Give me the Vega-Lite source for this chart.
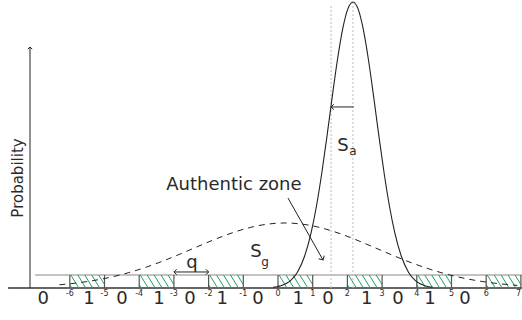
{
  "$schema": "https://vega.github.io/schema/vega-lite/v6.json",
  "width": 522,
  "height": 320,
  "padding": 0,
  "autosize": "none",
  "view": {"stroke": null},
  "config": {"text": {"font": "DejaVu Sans", "fontWeight": "normal", "color": "#2a2a2a"}},
  "datasets": {
    "solid": [
      {"x": -0.14, "y": 0.0025}, {"x": 0.06, "y": 0.0068}, {"x": 0.36, "y": 0.0257}, {"x": 0.56, "y": 0.0554},
      {"x": 0.76, "y": 0.1091}, {"x": 0.96, "y": 0.1963}, {"x": 1.11, "y": 0.2875}, {"x": 1.26, "y": 0.4002},
      {"x": 1.41, "y": 0.5294}, {"x": 1.56, "y": 0.6656}, {"x": 1.71, "y": 0.7954}, {"x": 1.86, "y": 0.9033},
      {"x": 2.01, "y": 0.9749}, {"x": 2.16, "y": 1.0}, {"x": 2.31, "y": 0.9749}, {"x": 2.46, "y": 0.9033},
      {"x": 2.61, "y": 0.7954}, {"x": 2.76, "y": 0.6656}, {"x": 2.91, "y": 0.5294}, {"x": 3.06, "y": 0.4002},
      {"x": 3.21, "y": 0.2875}, {"x": 3.36, "y": 0.1963}, {"x": 3.56, "y": 0.1091}, {"x": 3.76, "y": 0.0554},
      {"x": 3.96, "y": 0.0257}, {"x": 4.26, "y": 0.0068}, {"x": 4.46, "y": 0.0025}
    ],
    "dashed": [
      {"x": -6.3, "y": 0.0112}, {"x": -5.8, "y": 0.0175}, {"x": -5.3, "y": 0.0264}, {"x": -4.8, "y": 0.0383},
      {"x": -4.3, "y": 0.0538}, {"x": -3.8, "y": 0.0728}, {"x": -3.3, "y": 0.095}, {"x": -2.8, "y": 0.1198},
      {"x": -2.3, "y": 0.1457}, {"x": -1.8, "y": 0.171}, {"x": -1.3, "y": 0.1937}, {"x": -0.8, "y": 0.2117},
      {"x": -0.3, "y": 0.2233}, {"x": 0.2, "y": 0.2273}, {"x": 0.7, "y": 0.2233}, {"x": 1.2, "y": 0.2117},
      {"x": 1.7, "y": 0.1937}, {"x": 2.2, "y": 0.171}, {"x": 2.7, "y": 0.1457}, {"x": 3.2, "y": 0.1198},
      {"x": 3.7, "y": 0.095}, {"x": 4.2, "y": 0.0728}, {"x": 4.7, "y": 0.0538}, {"x": 5.2, "y": 0.0383},
      {"x": 5.7, "y": 0.0264}, {"x": 6.2, "y": 0.0175}, {"x": 6.7, "y": 0.0112}, {"x": 6.9, "y": 0.0093}
    ],
    "hatch": [
      {"x": -6, "y": 0.0119, "x2": -5.94, "y2": 0}, {"x": -5.97, "y": 0.04545, "x2": -5.74, "y2": 0}, {"x": -5.77, "y": 0.04545, "x2": -5.54, "y2": 0}, {"x": -5.57, "y": 0.04545, "x2": -5.34, "y2": 0}, {"x": -5.37, "y": 0.04545, "x2": -5.14, "y2": 0}, {"x": -5.17, "y": 0.04545, "x2": -5, "y2": 0.0119},
      {"x": -4, "y": 0.0119, "x2": -3.94, "y2": 0}, {"x": -3.97, "y": 0.04545, "x2": -3.74, "y2": 0}, {"x": -3.77, "y": 0.04545, "x2": -3.54, "y2": 0}, {"x": -3.57, "y": 0.04545, "x2": -3.34, "y2": 0}, {"x": -3.37, "y": 0.04545, "x2": -3.14, "y2": 0}, {"x": -3.17, "y": 0.04545, "x2": -3, "y2": 0.0119},
      {"x": -2, "y": 0.0119, "x2": -1.94, "y2": 0}, {"x": -1.97, "y": 0.04545, "x2": -1.74, "y2": 0}, {"x": -1.77, "y": 0.04545, "x2": -1.54, "y2": 0}, {"x": -1.57, "y": 0.04545, "x2": -1.34, "y2": 0}, {"x": -1.37, "y": 0.04545, "x2": -1.14, "y2": 0}, {"x": -1.17, "y": 0.04545, "x2": -1, "y2": 0.0119},
      {"x": 0, "y": 0.0119, "x2": 0.06, "y2": 0}, {"x": 0.03, "y": 0.04545, "x2": 0.26, "y2": 0}, {"x": 0.23, "y": 0.04545, "x2": 0.46, "y2": 0}, {"x": 0.43, "y": 0.04545, "x2": 0.66, "y2": 0}, {"x": 0.63, "y": 0.04545, "x2": 0.86, "y2": 0}, {"x": 0.83, "y": 0.04545, "x2": 1, "y2": 0.0119},
      {"x": 2, "y": 0.0119, "x2": 2.06, "y2": 0}, {"x": 2.03, "y": 0.04545, "x2": 2.26, "y2": 0}, {"x": 2.23, "y": 0.04545, "x2": 2.46, "y2": 0}, {"x": 2.43, "y": 0.04545, "x2": 2.66, "y2": 0}, {"x": 2.63, "y": 0.04545, "x2": 2.86, "y2": 0}, {"x": 2.83, "y": 0.04545, "x2": 3, "y2": 0.0119},
      {"x": 4, "y": 0.0119, "x2": 4.06, "y2": 0}, {"x": 4.03, "y": 0.04545, "x2": 4.26, "y2": 0}, {"x": 4.23, "y": 0.04545, "x2": 4.46, "y2": 0}, {"x": 4.43, "y": 0.04545, "x2": 4.66, "y2": 0}, {"x": 4.63, "y": 0.04545, "x2": 4.86, "y2": 0}, {"x": 4.83, "y": 0.04545, "x2": 5, "y2": 0.0119},
      {"x": 6, "y": 0.0119, "x2": 6.06, "y2": 0}, {"x": 6.03, "y": 0.04545, "x2": 6.26, "y2": 0}, {"x": 6.23, "y": 0.04545, "x2": 6.46, "y2": 0}, {"x": 6.43, "y": 0.04545, "x2": 6.66, "y2": 0}, {"x": 6.63, "y": 0.04545, "x2": 6.86, "y2": 0}, {"x": 6.83, "y": 0.04545, "x2": 7, "y2": 0.0119}
    ],
    "edges": [
      {"x": -6}, {"x": -5}, {"x": -4}, {"x": -3}, {"x": -2}, {"x": -1}, {"x": 0},
      {"x": 1}, {"x": 2}, {"x": 3}, {"x": 4}, {"x": 5}, {"x": 6}, {"x": 7}
    ],
    "bits": [
      {"t": "0", "x": -6.77}, {"t": "1", "x": -5.45}, {"t": "0", "x": -4.5}, {"t": "1", "x": -3.43},
      {"t": "0", "x": -2.54}, {"t": "1", "x": -1.61}, {"t": "0", "x": -0.58}, {"t": "1", "x": 0.58},
      {"t": "0", "x": 1.44}, {"t": "1", "x": 2.56}, {"t": "0", "x": 3.46}, {"t": "1", "x": 4.38},
      {"t": "0", "x": 5.39}
    ],
    "ticks": [
      {"t": "-6", "x": -6}, {"t": "-5", "x": -5}, {"t": "-4", "x": -4}, {"t": "-3", "x": -3},
      {"t": "-2", "x": -2}, {"t": "-1", "x": -1}, {"t": "0", "x": 0}, {"t": "1", "x": 1},
      {"t": "2", "x": 2}, {"t": "3", "x": 3}, {"t": "4", "x": 4}, {"t": "5", "x": 5},
      {"t": "6", "x": 6}, {"t": "7", "x": 6.93}
    ]
  },
  "layer": [
    {
      "data": {"values": [{"x": -7.78, "x2": 7.05, "y": 0}]},
      "mark": {"type": "rule", "color": "#333", "strokeWidth": 1.5},
      "encoding": {
        "x": {"field": "x", "type": "quantitative", "scale": {"domain": [-8.012, 7.032], "nice": false, "zero": false}, "axis": null},
        "x2": {"field": "x2"},
        "y": {"field": "y", "type": "quantitative", "scale": {"domain": [-0.1119, 1.007], "nice": false, "zero": false}, "axis": null}
      }
    },
    {
      "data": {"values": [{"x": -7.0, "x2": 7.05, "y": 0.04545}]},
      "mark": {"type": "rule", "color": "#888", "strokeWidth": 1.2},
      "encoding": {
        "x": {"field": "x", "type": "quantitative"},
        "x2": {"field": "x2"},
        "y": {"field": "y", "type": "quantitative"}
      }
    },
    {
      "data": {"name": "hatch"},
      "mark": {"type": "rule", "color": "#1fa35c", "strokeWidth": 1},
      "encoding": {
        "x": {"field": "x", "type": "quantitative"},
        "x2": {"field": "x2"},
        "y": {"field": "y", "type": "quantitative"},
        "y2": {"field": "y2"}
      }
    },
    {
      "data": {"name": "edges"},
      "mark": {"type": "rule", "color": "#555", "strokeWidth": 1.2},
      "encoding": {
        "x": {"field": "x", "type": "quantitative"},
        "y": {"datum": 0, "type": "quantitative"},
        "y2": {"datum": 0.04545}
      }
    },
    {
      "data": {"values": [{"x": 1.53, "y": 0, "y2": 0.99}, {"x": 2.16, "y": 0, "y2": 1.0}]},
      "mark": {"type": "rule", "color": "#bbb", "strokeWidth": 1, "strokeDash": [2, 2]},
      "encoding": {
        "x": {"field": "x", "type": "quantitative"},
        "y": {"field": "y", "type": "quantitative"},
        "y2": {"field": "y2"}
      }
    },
    {
      "data": {"name": "dashed"},
      "mark": {"type": "line", "color": "#222", "strokeWidth": 1, "strokeDash": [6, 5], "interpolate": "monotone"},
      "encoding": {
        "x": {"field": "x", "type": "quantitative"},
        "y": {"field": "y", "type": "quantitative"}
      }
    },
    {
      "data": {"name": "solid"},
      "mark": {"type": "line", "color": "#222", "strokeWidth": 1.1, "interpolate": "monotone"},
      "encoding": {
        "x": {"field": "x", "type": "quantitative"},
        "y": {"field": "y", "type": "quantitative"}
      }
    },
    {
      "data": {"values": [
        {"x": 2.18, "y": 0.633, "x2": 1.53, "y2": 0.633},
        {"x": 0.288, "y": 0.3147, "x2": 1.297, "y2": 0.0979},
        {"x": -3.0, "y": 0.056, "x2": -2.0, "y2": 0.056},
        {"x": -7.147, "y": 0, "x2": -7.147, "y2": 0.8427}
      ]},
      "mark": {"type": "rule", "color": "#222", "strokeWidth": 1},
      "encoding": {
        "x": {"field": "x", "type": "quantitative"},
        "x2": {"field": "x2"},
        "y": {"field": "y", "type": "quantitative"},
        "y2": {"field": "y2"}
      }
    },
    {
      "data": {"values": [{"x": 1.53, "y": 0.633}, {"x": -3.0, "y": 0.056}]},
      "mark": {"type": "point", "shape": "M-1,-1L0,0L-1,1", "filled": false, "stroke": "#222", "strokeWidth": 1, "size": 30, "angle": 180, "opacity": 1},
      "encoding": {
        "x": {"field": "x", "type": "quantitative"},
        "y": {"field": "y", "type": "quantitative"}
      }
    },
    {
      "data": {"values": [{"x": -2.0, "y": 0.056}]},
      "mark": {"type": "point", "shape": "M-1,-1L0,0L-1,1", "filled": false, "stroke": "#222", "strokeWidth": 1, "size": 30, "angle": 0, "opacity": 1},
      "encoding": {
        "x": {"field": "x", "type": "quantitative"},
        "y": {"field": "y", "type": "quantitative"}
      }
    },
    {
      "data": {"values": [{"x": 1.297, "y": 0.0979}]},
      "mark": {"type": "point", "shape": "M-1,-1L0,0L-1,1", "filled": false, "stroke": "#222", "strokeWidth": 1, "size": 40, "angle": 60.6, "opacity": 1},
      "encoding": {
        "x": {"field": "x", "type": "quantitative"},
        "y": {"field": "y", "type": "quantitative"}
      }
    },
    {
      "data": {"values": [{"x": -7.147, "y": 0.8427}]},
      "mark": {"type": "point", "shape": "M-1,-1L0,0L-1,1", "filled": false, "stroke": "#222", "strokeWidth": 1, "size": 20, "angle": 270, "opacity": 1},
      "encoding": {
        "x": {"field": "x", "type": "quantitative"},
        "y": {"field": "y", "type": "quantitative"}
      }
    },
    {
      "data": {"name": "bits"},
      "mark": {"type": "text", "fontSize": 18, "align": "center", "baseline": "middle"},
      "encoding": {
        "x": {"field": "x", "type": "quantitative"},
        "y": {"datum": -0.0385, "type": "quantitative"},
        "text": {"field": "t"}
      }
    },
    {
      "data": {"name": "ticks"},
      "mark": {"type": "text", "fontSize": 8, "align": "center", "baseline": "middle"},
      "encoding": {
        "x": {"field": "x", "type": "quantitative"},
        "y": {"datum": -0.021, "type": "quantitative"},
        "text": {"field": "t"}
      }
    },
    {
      "data": {"values": [
        {"t": "Authentic zone", "x": -1.27, "y": 0.36},
        {"t": "S", "x": 1.873, "y": 0.4965},
        {"t": "S", "x": -0.634, "y": 0.1259},
        {"t": "q", "x": -2.478, "y": 0.0874}
      ]},
      "mark": {"type": "text", "fontSize": 18, "align": "center", "baseline": "middle"},
      "encoding": {
        "x": {"field": "x", "type": "quantitative"},
        "y": {"field": "y", "type": "quantitative"},
        "text": {"field": "t"}
      }
    },
    {
      "data": {"values": [
        {"t": "a", "x": 2.161, "y": 0.479},
        {"t": "g", "x": -0.375, "y": 0.0909}
      ]},
      "mark": {"type": "text", "fontSize": 12, "align": "center", "baseline": "middle"},
      "encoding": {
        "x": {"field": "x", "type": "quantitative"},
        "y": {"field": "y", "type": "quantitative"},
        "text": {"field": "t"}
      }
    },
    {
      "data": {"values": [{"t": "Probability", "x": -7.493, "y": 0.3846}]},
      "mark": {"type": "text", "fontSize": 15, "align": "center", "baseline": "middle", "angle": 270},
      "encoding": {
        "x": {"field": "x", "type": "quantitative"},
        "y": {"field": "y", "type": "quantitative"},
        "text": {"field": "t"}
      }
    }
  ]
}
